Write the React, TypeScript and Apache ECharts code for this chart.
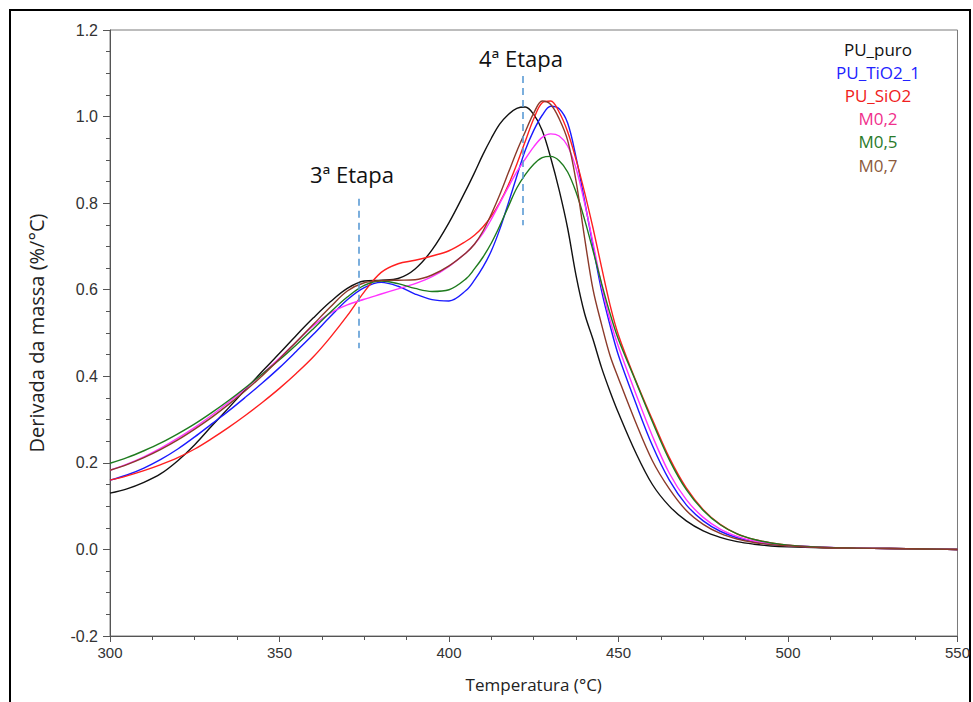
import React, { useEffect, useRef } from "react";
import * as echarts from "echarts";

const temps = [300,305,310,315,320,325,330,335,340,345,350,355,360,365,370,375,380,385,390,395,400,405,407.5,410,412.5,415,417.5,420,422.5,425,427.5,430,432.5,435,437.5,440,442.5,445,447.5,450,455,460,465,470,475,480,485,490,495,500,510,520,530,540,550];

const puPuro = [0.130,0.140,0.155,0.175,0.205,0.242,0.285,0.327,0.370,0.412,0.453,0.495,0.535,0.572,0.603,0.620,0.622,0.626,0.648,0.692,0.755,0.830,0.870,0.912,0.950,0.983,1.005,1.019,1.022,1.005,0.968,0.905,0.830,0.742,0.632,0.545,0.485,0.420,0.365,0.315,0.225,0.150,0.100,0.066,0.043,0.028,0.018,0.012,0.008,0.006,0.004,0.003,0.002,0.001,0.000];
const puTiO2 = [0.160,0.172,0.188,0.208,0.232,0.260,0.290,0.320,0.352,0.385,0.420,0.458,0.497,0.538,0.577,0.605,0.617,0.608,0.590,0.577,0.574,0.598,0.622,0.652,0.690,0.740,0.800,0.862,0.922,0.968,1.003,1.024,1.018,0.985,0.905,0.805,0.700,0.598,0.518,0.448,0.340,0.240,0.160,0.103,0.066,0.042,0.027,0.018,0.012,0.009,0.005,0.003,0.002,0.001,0.000];
const puSiO2 = [0.160,0.170,0.182,0.196,0.212,0.232,0.256,0.282,0.310,0.340,0.372,0.407,0.445,0.490,0.540,0.595,0.640,0.660,0.668,0.678,0.690,0.712,0.726,0.745,0.770,0.802,0.842,0.890,0.943,0.995,1.032,1.036,1.010,0.965,0.900,0.825,0.742,0.652,0.565,0.495,0.392,0.300,0.212,0.142,0.092,0.058,0.036,0.023,0.015,0.010,0.005,0.003,0.002,0.001,0.000];
const m02 = [0.183,0.197,0.214,0.234,0.257,0.282,0.310,0.340,0.372,0.406,0.442,0.480,0.517,0.546,0.565,0.578,0.590,0.602,0.614,0.630,0.654,0.685,0.705,0.730,0.763,0.800,0.837,0.872,0.902,0.930,0.952,0.960,0.955,0.932,0.880,0.800,0.708,0.610,0.530,0.468,0.362,0.262,0.176,0.115,0.074,0.047,0.030,0.019,0.013,0.009,0.005,0.003,0.002,0.001,0.000];
const m05 = [0.199,0.212,0.228,0.246,0.267,0.290,0.316,0.344,0.374,0.406,0.438,0.473,0.510,0.548,0.583,0.610,0.620,0.614,0.603,0.596,0.600,0.625,0.648,0.675,0.708,0.748,0.792,0.835,0.866,0.890,0.905,0.908,0.898,0.872,0.825,0.762,0.690,0.615,0.545,0.485,0.390,0.295,0.207,0.138,0.090,0.057,0.036,0.023,0.015,0.010,0.005,0.003,0.002,0.001,0.000];
const m07 = [0.183,0.196,0.212,0.231,0.253,0.278,0.305,0.335,0.367,0.402,0.440,0.480,0.520,0.560,0.597,0.616,0.621,0.622,0.623,0.634,0.655,0.685,0.705,0.735,0.775,0.820,0.870,0.920,0.965,1.008,1.036,1.028,0.995,0.945,0.850,0.720,0.600,0.520,0.448,0.395,0.295,0.205,0.140,0.090,0.058,0.037,0.024,0.016,0.011,0.008,0.004,0.003,0.002,0.001,0.000];

const seriesNames = ["PU_puro", "PU_TiO2_1", "PU_SiO2", "M0,2", "M0,5", "M0,7"];
const seriesValues = [puPuro, puTiO2, puSiO2, m02, m05, m07];
const lineColors = ["#111111", "#1a1aff", "#ff1f1f", "#ff33ff", "#1e7b1e", "#8b3a2a"];
const labelColors = ["#111111", "#2222ff", "#f02020", "#f0308c", "#2a7a2a", "#8c5a3c"];

const stage3Line = [[373.5, 0.81], [373.5, 0.465]];
const stage4Line = [[421.8, 1.094], [421.8, 0.749]];
const stageLabels = ["3ª Etapa", "4ª Etapa"];

export default function App() {
  const ref = useRef<HTMLDivElement>(null);
  useEffect(() => {
    const chart = echarts.init(ref.current!, null, { renderer: "svg" });
    const series: any[] = seriesNames.map((name, i) => ({
      name,
      type: "line",
      data: temps.map((t, j) => [t, seriesValues[i][j]]),
      smooth: 0.35,
      showSymbol: false,
      lineStyle: { color: lineColors[i], width: 1.4 },
      itemStyle: { color: lineColors[i] },
      z: 3,
    }));
    series.push({
      name: "annot",
      type: "line",
      data: [],
      markLine: {
        silent: true,
        symbol: "none",
        label: { show: false },
        lineStyle: { color: "#5b9bd5", type: [7, 5], width: 1.6 },
        data: [
          [{ coord: stage3Line[0] }, { coord: stage3Line[1] }],
          [{ coord: stage4Line[0] }, { coord: stage4Line[1] }],
        ],
      },
    });
    chart.setOption({
      animation: false,
      backgroundColor: "#ffffff",
      grid: { left: 110, right: 15, top: 30, bottom: 66, show: true, borderColor: "#7a7a7a", borderWidth: 1 },
      xAxis: {
        type: "value",
        min: 300,
        max: 550,
        interval: 50,
        name: "Temperatura (°C)",
        nameLocation: "middle",
        nameGap: 40,
        nameTextStyle: { fontFamily: "Open Sans", fontSize: 17, color: "#222" },
        axisLine: { onZero: false, lineStyle: { color: "#555", width: 1 } },
        axisTick: { show: true, length: 6, lineStyle: { color: "#555" } },
        minorTick: { show: true, splitNumber: 4, length: 4, lineStyle: { color: "#555" } },
        splitLine: { show: false },
        axisLabel: { fontFamily: "Liberation Sans", fontSize: 15, color: "#333", margin: 9 },
      },
      yAxis: {
        type: "value",
        min: -0.2,
        max: 1.2,
        interval: 0.2,
        name: "Derivada da massa (%/°C)",
        nameLocation: "middle",
        nameGap: 64,
        nameTextStyle: { fontFamily: "Open Sans", fontSize: 20, color: "#222" },
        axisLine: { show: true, onZero: false, lineStyle: { color: "#555", width: 1 } },
        axisTick: { show: true, length: 7, lineStyle: { color: "#555" } },
        minorTick: { show: true, splitNumber: 4, length: 4, lineStyle: { color: "#555" } },
        splitLine: { show: false },
        axisLabel: {
          fontFamily: "Liberation Sans",
          fontSize: 16,
          color: "#333",
          margin: 12,
          formatter: (v: number) => v.toFixed(1),
        },
      },
      series,
      graphic: [
        { type: "rect", shape: { x: 10, y: 10, width: 960, height: 720 }, style: { fill: "none", stroke: "#000", lineWidth: 2 }, silent: true },
        { type: "text", x: 352, y: 174, style: { text: stageLabels[0], font: "22px 'Open Sans'", fill: "#111", textAlign: "center", textVerticalAlign: "middle" } },
        { type: "text", x: 521, y: 58, style: { text: stageLabels[1], font: "22px 'Open Sans'", fill: "#111", textAlign: "center", textVerticalAlign: "middle" } },
        ...seriesNames.map((n, i) => ({
          type: "text",
          x: 878,
          y: 49 + i * 23.2,
          style: { text: n, font: "17px 'Open Sans'", fill: labelColors[i], textAlign: "center", textVerticalAlign: "middle" },
        })),
      ],
    });
    return () => chart.dispose();
  }, []);
  return <div ref={ref} style={{ position: "fixed", left: 0, top: 0, width: 973, height: 702 }} />;
}
